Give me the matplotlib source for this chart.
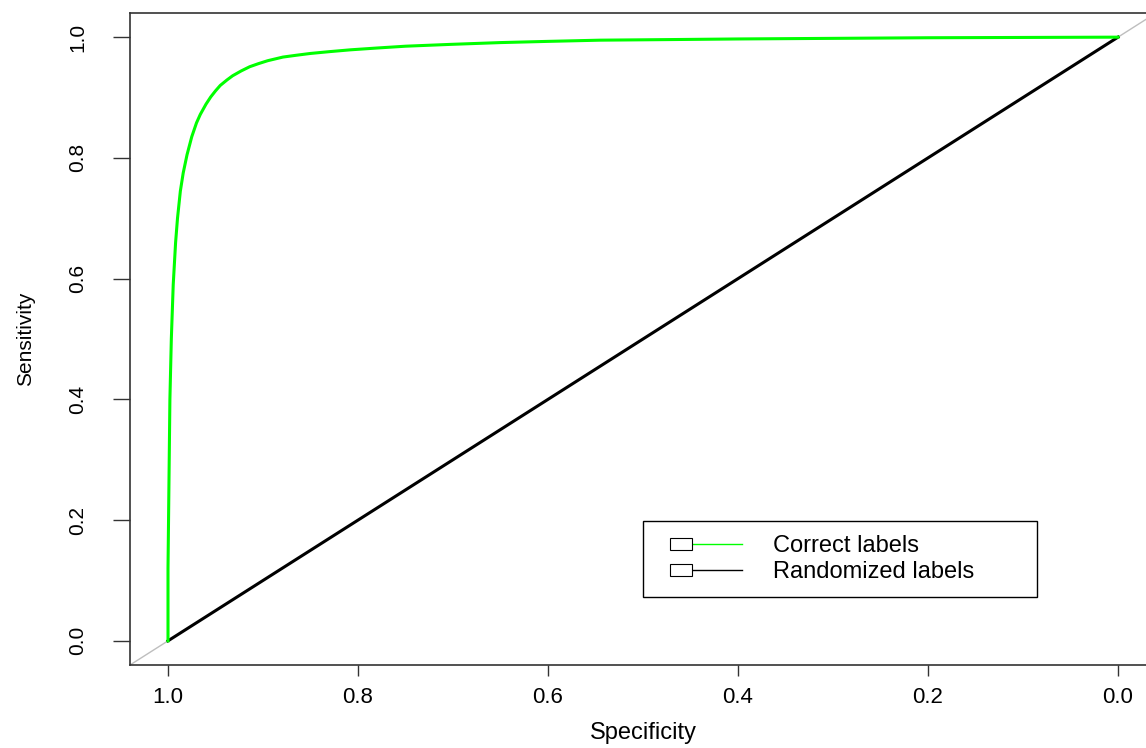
import matplotlib
matplotlib.use('Agg')
import matplotlib.pyplot as plt
from matplotlib.legend_handler import HandlerBase
from matplotlib.patches import Rectangle
from matplotlib.lines import Line2D

plt.rcParams['font.family'] = ['Liberation Sans', 'DejaVu Sans']

# ROC curve (specificity, sensitivity)
specificity = [1.0, 1.0, 0.999, 0.998, 0.9965, 0.9945, 0.992, 0.990, 0.987, 0.984,
               0.980, 0.975, 0.970, 0.966, 0.960, 0.955, 0.950, 0.945, 0.938,
               0.932, 0.923, 0.914, 0.905, 0.895, 0.879, 0.865, 0.85, 0.83,
               0.808, 0.78, 0.75, 0.703, 0.65, 0.6, 0.545, 0.47, 0.4, 0.3,
               0.2, 0.1, 0.0]
sensitivity = [0.0, 0.12, 0.26, 0.40, 0.50, 0.59, 0.66, 0.70, 0.745, 0.775,
               0.805, 0.835, 0.858, 0.872, 0.889, 0.901, 0.911, 0.920, 0.929,
               0.936, 0.944, 0.951, 0.956, 0.961, 0.967, 0.970, 0.973, 0.976,
               0.979, 0.982, 0.985, 0.988, 0.991, 0.993, 0.995, 0.996, 0.997,
               0.998, 0.999, 0.9995, 1.0]
random_spec = [1.0, 0.0]
random_sens = [0.0, 1.0]

ticks = [0.0, 0.2, 0.4, 0.6, 0.8, 1.0]
labels = ['Correct labels', 'Randomized labels']
colors = ['#00ff00', 'black']


class BoxLineHandler(HandlerBase):
    # R-style legend key: small box followed by a line (sizes in points)
    def create_artists(self, legend, orig_handle, xdescent, ydescent,
                       width, height, fontsize, trans):
        inset = 9
        bw = 16
        bh = 9
        y0 = height / 2 - ydescent
        x0 = -xdescent + inset
        box = Rectangle((x0, y0 - bh / 2), bw, bh, facecolor='white',
                        edgecolor='black', lw=0.8, transform=trans)
        line = Line2D([x0 + bw, -xdescent + width], [y0, y0],
                      color=orig_handle.get_color(), lw=1.0, transform=trans)
        return [line, box]


fig = plt.figure(figsize=(11.46, 7.48), dpi=100)
ax = fig.add_axes([130 / 1146, 83 / 748, 1026 / 1146, 652 / 748])

ax.axline((1, 0), (0, 1), color='#bebebe', lw=1.0, zorder=1)
ax.plot(random_spec, random_sens, color=colors[1], lw=2.2, zorder=2)
ax.plot(specificity, sensitivity, color=colors[0], lw=2.2, zorder=3,
        solid_joinstyle='round')

ax.set_xlim(1.04, -0.04)
ax.set_ylim(-0.04, 1.04)
ax.set_xticks(ticks)
ax.set_yticks(ticks)
ax.set_xticklabels([f'{t:.1f}' for t in ticks], fontsize=16)
ax.set_yticklabels([f'{t:.1f}' for t in ticks], fontsize=15, rotation=90, va='center')
ax.tick_params(axis='x', length=8, width=1, color='#333333', pad=8)
ax.tick_params(axis='y', length=12, width=1, color='#333333', pad=19)
ax.set_xlabel('Specificity', fontsize=17, labelpad=10)
ax.set_ylabel('Sensitivity', fontsize=15, labelpad=24)

for side in ['left', 'bottom', 'top']:
    ax.spines[side].set_color('#333333')
    ax.spines[side].set_linewidth(1.2)
ax.spines['right'].set_visible(False)

handles = [Line2D([], [], color=c) for c in colors]
leg = ax.legend(handles, labels, handler_map={Line2D: BoxLineHandler()},
                loc='lower left', bbox_to_anchor=(0.5, 0.104, 0.384, 0.118),
                mode='expand', fontsize=17,
                handlelength=3.6, handletextpad=1.3, borderpad=0.6,
                labelspacing=0.15, fancybox=False, framealpha=1,
                edgecolor='black', borderaxespad=0)
leg.get_frame().set_linewidth(1.0)

plt.savefig('out.png', dpi=100)
